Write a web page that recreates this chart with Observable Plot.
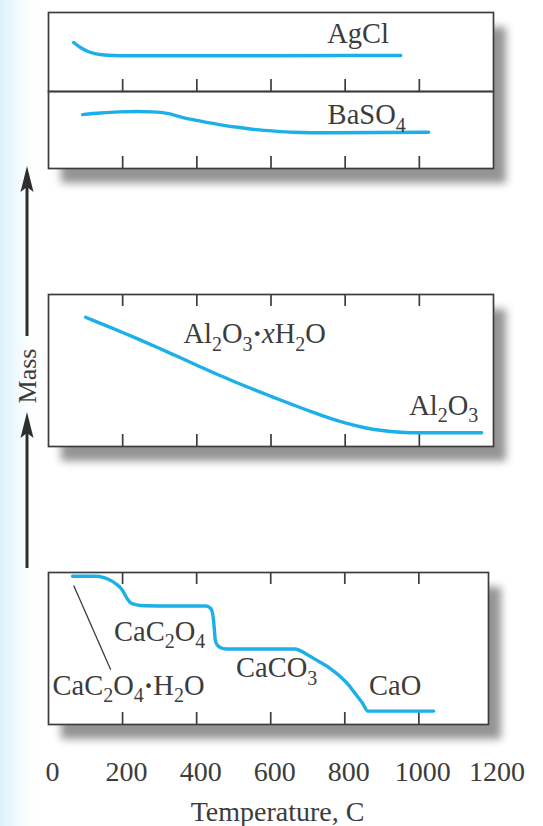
<!DOCTYPE html>
<html><head><meta charset="utf-8">
<script src="https://cdn.jsdelivr.net/npm/d3@7"></script>
<script src="https://cdn.jsdelivr.net/npm/@observablehq/plot@0.6"></script>
<style>
html,body{margin:0;padding:0;background:#fff;}
#fig{position:relative;width:543px;height:826px;overflow:hidden;
 background:linear-gradient(to right,#dcf1fb 0px,#e8f6fd 10px,#f6fcfe 22px,#ffffff 36px);
 font-family:"Liberation Serif","Times New Roman",serif;color:#3c3c3c;}
.shadow{position:absolute;background:#fff;box-shadow:13px 15px 8px rgba(0,0,0,0.42);}
.panel{position:absolute;left:0;}
.panel svg{overflow:visible;}
</style></head><body><div id="fig"></div>
<script>
// ---- data (temperature in C, relative mass 0..1 within each panel) ----
const xTicks = [0, 200, 400, 600, 800, 1000, 1200];
const innerTicks = [200, 400, 600, 800, 1000];

const agclT = [68, 85, 105, 125, 145, 175, 220, 400, 600, 800, 950];
const agclM = [0.62, 0.56, 0.51, 0.48, 0.465, 0.455, 0.452, 0.452, 0.452, 0.455, 0.455];

const baso4T = [92, 140, 190, 240, 280, 320, 360, 410, 460, 510, 560, 610, 660, 710, 760, 1025];
const baso4M = [0.70, 0.72, 0.735, 0.74, 0.735, 0.715, 0.665, 0.615, 0.57, 0.535, 0.505, 0.485, 0.47, 0.465, 0.465, 0.47];

const al2o3T = [100, 150, 200, 250, 300, 350, 400, 450, 500, 550, 600, 650, 700, 750, 800, 850, 900, 950, 1000, 1168];
const al2o3M = [0.85, 0.80, 0.75, 0.698, 0.645, 0.59, 0.535, 0.48, 0.428, 0.378, 0.33, 0.283, 0.237, 0.193, 0.155, 0.125, 0.105, 0.094, 0.09, 0.09];

const caT = [65, 125, 150, 170, 185, 196, 205, 212, 222, 238, 260, 300, 425, 435, 441, 445, 448, 450, 455, 465, 480, 520, 665, 700, 730, 760, 787, 810, 830, 848, 862, 1040];
const caM = [0.975, 0.975, 0.966, 0.945, 0.92, 0.895, 0.86, 0.83, 0.80, 0.787, 0.781, 0.78, 0.78, 0.77, 0.75, 0.70, 0.62, 0.56, 0.525, 0.505, 0.497, 0.497, 0.497, 0.458, 0.415, 0.37, 0.317, 0.26, 0.197, 0.14, 0.088, 0.088];

const topLabels = ["AgCl"], topLabelT = [835], topLabelM = [0.73];
const secLabels = ["BaSO4"], secLabelT = [858], secLabelM = [0.69];
const midLabels = ["Al2O3·xH2O", "Al2O3"], midLabelT = [556, 1066], midLabelM = [0.74, 0.27];
const botLabels = ["CaC2O4", "CaC2O4·H2O", "CaCO3", "CaO"], botLabelT = [300, 216, 616, 936], botLabelM = [0.61, 0.255, 0.37, 0.255];
const leaderT = [68, 168], leaderM = [0.915, 0.36];
const xLabel = "Temperature, C";
const yLabel = "Mass";

// ---- drawing ----
const fig = document.getElementById("fig");
const LINE = "#1cb0e8", INK = "#3c3c3c", FS = 28.5, PAD = 3;
const zip = (T, M) => T.map((t, i) => ({T: t, M: M[i]}));
const lab = (S, T, M) => S.map((s, i) => ({s, T: T[i], M: M[i]}));

function shadow(x, y, w, h) {
  const d = document.createElement("div");
  d.className = "shadow";
  Object.assign(d.style, {left: x + "px", top: y + "px", width: w + "px", height: h + "px"});
  fig.appendChild(d);
}

function formula(svg) {
  const NS = "http://www.w3.org/2000/svg";
  svg.querySelectorAll("g.lbl text").forEach(el => {
    const s = el.textContent;
    el.textContent = "";
    let shift = 0;
    for (let i = 0; i < s.length; i++) {
      const c = s[i];
      const sub = /\d/.test(c);
      const t = document.createElementNS(NS, "tspan");
      const target = sub ? 7.5 : 0;
      if (target !== shift) { t.setAttribute("dy", target - shift); shift = target; }
      if (sub) t.setAttribute("font-size", 20);
      if (c === "x") t.setAttribute("font-style", "italic");
      if (c === "·") t.setAttribute("font-weight", "bold");
      t.textContent = c;
      el.appendChild(t);
    }
  });
}

function panel({boxTop, h, series, labels, tickTop, tickBottom, bottomAxis = false, leader = null, xMax = 1200, mr = 50}) {
  const marks = [Plot.frame({stroke: INK, strokeWidth: 1.7})];
  if (tickBottom) marks.push(Plot.ruleX(innerTicks, {x: d => d, insetTop: h - 12, stroke: INK, strokeWidth: 1.7}));
  if (tickTop) marks.push(Plot.ruleX(innerTicks, {x: d => d, insetBottom: h - 12, stroke: INK, strokeWidth: 1.7}));
  if (leader) marks.push(Plot.link([0], {x1: () => leader.T[0], y1: () => leader.M[0], x2: () => leader.T[1], y2: () => leader.M[1], stroke: INK, strokeWidth: 1.3}));
  marks.push(Plot.line(series, {x: "T", y: "M", stroke: LINE, strokeWidth: 3.4, curve: "monotone-x"}));
  marks.push(Plot.text(labels, {x: "T", y: "M", text: "s", fontSize: FS, fill: INK, textAnchor: "middle", lineAnchor: "middle", className: "lbl"}));
  if (bottomAxis) {
    marks.push(Plot.axisX(xTicks, {anchor: "bottom", tickSize: 0, tickPadding: 37, fontSize: 28, fill: INK, dx: 4,
      tickFormat: d => String(d), label: null}));
    marks.push(Plot.text([xLabel], {frameAnchor: "bottom", dy: 88, dx: 9, fontSize: 28, fill: INK, lineAnchor: "middle", textAnchor: "middle"}));
  }
  const mb = bottomAxis ? 102 : PAD;
  const svg = Plot.plot({
    width: 543, height: h + PAD + mb,
    marginLeft: 48, marginRight: mr, marginTop: PAD, marginBottom: mb,
    x: {domain: [0, xMax], axis: null},
    y: {domain: [0, 1], axis: null},
    style: {background: "transparent", fontFamily: "Liberation Serif", fontSize: "28px", color: INK, overflow: "visible"},
    marks
  });
  formula(svg);
  const wrap = document.createElement("div");
  wrap.className = "panel";
  wrap.style.top = (boxTop - PAD) + "px";
  wrap.appendChild(svg);
  fig.appendChild(wrap);
}

shadow(48, 12, 445, 156);
shadow(48, 294, 445, 152);
shadow(48, 572, 440, 152);

panel({boxTop: 12, h: 79, series: zip(agclT, agclM), labels: lab(topLabels, topLabelT, topLabelM), tickBottom: true});
panel({boxTop: 91, h: 77, series: zip(baso4T, baso4M), labels: lab(secLabels, secLabelT, secLabelM), tickBottom: true});
panel({boxTop: 294, h: 152, series: zip(al2o3T, al2o3M), labels: lab(midLabels, midLabelT, midLabelM), tickTop: true, tickBottom: true});
panel({boxTop: 572, h: 152, series: zip(caT, caM), labels: lab(botLabels, botLabelT, botLabelM), tickTop: true, tickBottom: true,
  bottomAxis: true, leader: {T: leaderT, M: leaderM}, xMax: 1188, mr: 55});

// Mass arrows
const NS = "http://www.w3.org/2000/svg";
const a = document.createElementNS(NS, "svg");
a.setAttribute("width", 60); a.setAttribute("height", 826);
a.style.position = "absolute"; a.style.left = "0"; a.style.top = "0";
const X = 27;
function arrow(tip, end) {
  const l = document.createElementNS(NS, "line");
  l.setAttribute("x1", X); l.setAttribute("x2", X); l.setAttribute("y1", tip + 18); l.setAttribute("y2", end);
  l.setAttribute("stroke", "#2e2e2e"); l.setAttribute("stroke-width", 3);
  a.appendChild(l);
  const p = document.createElementNS(NS, "path");
  p.setAttribute("d", `M${X},${tip} L${X + 6.5},${tip + 26} L${X},${tip + 21} L${X - 6.5},${tip + 26} Z`);
  p.setAttribute("fill", "#2e2e2e");
  a.appendChild(p);
}
arrow(166, 336);
arrow(412, 568);
const t = document.createElementNS(NS, "text");
t.setAttribute("transform", `translate(${X + 9},376) rotate(-90)`);
t.setAttribute("text-anchor", "middle");
t.setAttribute("font-family", "Liberation Serif");
t.setAttribute("font-size", 26);
t.setAttribute("fill", INK);
t.textContent = yLabel;
a.appendChild(t);
fig.appendChild(a);
</script></body></html>
